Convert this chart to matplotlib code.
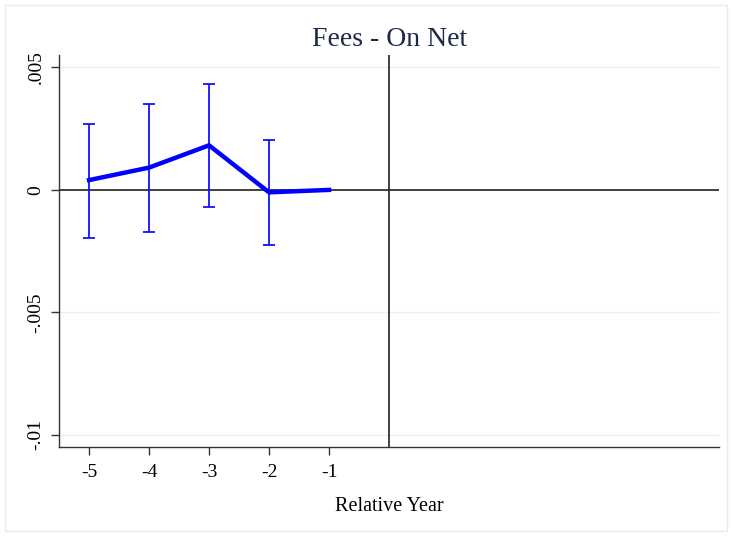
import matplotlib
matplotlib.use("Agg")
import matplotlib.pyplot as plt

years = [-5, -4, -3, -2, -1]
coef = [0.0004, 0.00091, 0.00182, -0.0001, 0.0]
ci_low = [-0.00195, -0.00171, -0.00068, -0.00223]
ci_high = [0.0027, 0.00352, 0.00433, 0.00203]
ci_years = [-5, -4, -3, -2]
yticks = [-0.01, -0.005, 0, 0.005]
ytick_labels = ["-.01", "-.005", "0", ".005"]

plt.rcParams["font.family"] = ["Liberation Serif", "DejaVu Serif"]

fig = plt.figure(figsize=(7.35, 5.36), dpi=100)
fig.patches.append(plt.Rectangle((0.007, 0.009), 0.982, 0.982, transform=fig.transFigure,
                                 fill=False, edgecolor="#e6ecee", linewidth=1.0))
ax = fig.add_axes([0.0803, 0.166, 0.898, 0.731])

for yt in yticks:
    ax.axhline(yt, color="#eaf0f1", linewidth=1.0, zorder=0)
ax.axhline(0, color="#222222", linewidth=1.2, zorder=1)
ax.axvline(0, color="#222222", linewidth=1.2, zorder=1)

yerr_lo = [c - l for c, l in zip(coef[:4], ci_low)]
yerr_hi = [h - c for c, h in zip(coef[:4], ci_high)]
ax.errorbar(ci_years, coef[:4], yerr=[yerr_lo, yerr_hi], fmt="none",
            ecolor="#1010ff", elinewidth=1.3, capsize=4, capthick=1.3, zorder=2)
ax.plot(years, coef, color="#0000ff", linewidth=3.2, zorder=3)

ax.set_xlim(-5.5, 5.5)
ax.set_ylim(-0.0105, 0.0055)
ax.set_xticks(years)
ax.set_xticklabels([str(y) for y in years], fontsize=14)
ax.set_yticks(yticks)
ax.set_yticklabels(ytick_labels, fontsize=14, rotation=90, va="center")
ax.tick_params(axis="both", length=5.5, width=1.0, color="#333333")
ax.tick_params(axis="x", pad=7)
ax.tick_params(axis="y", pad=5)

for side in ["top", "right"]:
    ax.spines[side].set_visible(False)
for side in ["left", "bottom"]:
    ax.spines[side].set_color("#333333")
    ax.spines[side].set_linewidth(1.0)

ax.set_xlabel("Relative Year", fontsize=14.5, labelpad=11)
fig.text(0.53, 0.927, "Fees - On Net", fontsize=20, color="#1c2a48", ha="center", va="center")

fig.savefig("out.png", dpi=100, facecolor="white")
